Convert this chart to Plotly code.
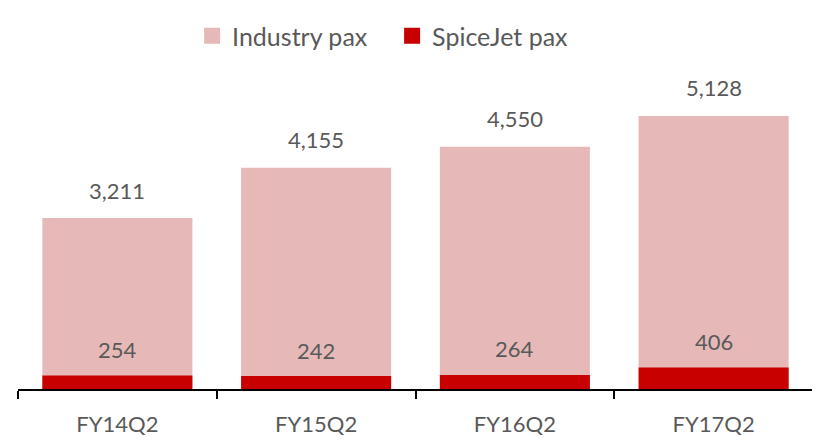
import plotly.graph_objects as go

categories = ["FY14Q2", "FY15Q2", "FY16Q2", "FY17Q2"]
industry_pax = [3211, 4155, 4550, 5128]
spicejet_pax = [254, 242, 264, 406]

series_names = ["Industry pax", "SpiceJet pax"]
series_colors = ["#E6B9B8", "#C80000"]

FONT = "Lato"
TXT = "#595959"

fig = go.Figure()
for vals, name, col in zip([industry_pax, spicejet_pax], series_names, series_colors):
    fig.add_trace(go.Bar(x=categories, y=vals, name=name, showlegend=False,
                         marker=dict(color=col, line=dict(width=0)), width=0.755))
# legend entries with larger square swatches
for name, col in zip(series_names, series_colors):
    fig.add_trace(go.Scatter(x=[None], y=[None], mode="markers", name=name,
                             marker=dict(symbol="square", size=16, color=col)))

for c, v in zip(categories, industry_pax):
    fig.add_annotation(x=c, y=v, text=f"{v:,}", showarrow=False, yanchor="middle",
                       yshift=28, font=dict(family=FONT, size=22, color=TXT))
for c, v in zip(categories, spicejet_pax):
    fig.add_annotation(x=c, y=v, text=f"{v:,}", showarrow=False, yanchor="middle",
                       yshift=26, font=dict(family=FONT, size=22, color=TXT))

fig.update_layout(
    width=820, height=445,
    barmode="overlay",
    paper_bgcolor="white", plot_bgcolor="white",
    margin=dict(l=10, r=15, t=62, b=64),
    font=dict(family=FONT, size=22, color=TXT),
    legend=dict(orientation="h", x=0.219, xanchor="left", y=1 - 28 / 445, yanchor="middle",
                yref="container", font=dict(family=FONT, size=25, color=TXT),
                itemwidth=30, entrywidth=155, entrywidthmode="pixels",
                traceorder="normal"),
    showlegend=True,
)
fig.update_xaxes(showline=True, linecolor="black", linewidth=2, ticks="outside",
                 tickson="boundaries", ticklen=8, tickcolor="black", tickwidth=2,
                 ticklabelstandoff=15,
                 showgrid=False, tickfont=dict(family=FONT, size=22, color=TXT))
fig.update_yaxes(visible=False, range=[0, 5990], showgrid=False)

fig.write_html("out.html")
